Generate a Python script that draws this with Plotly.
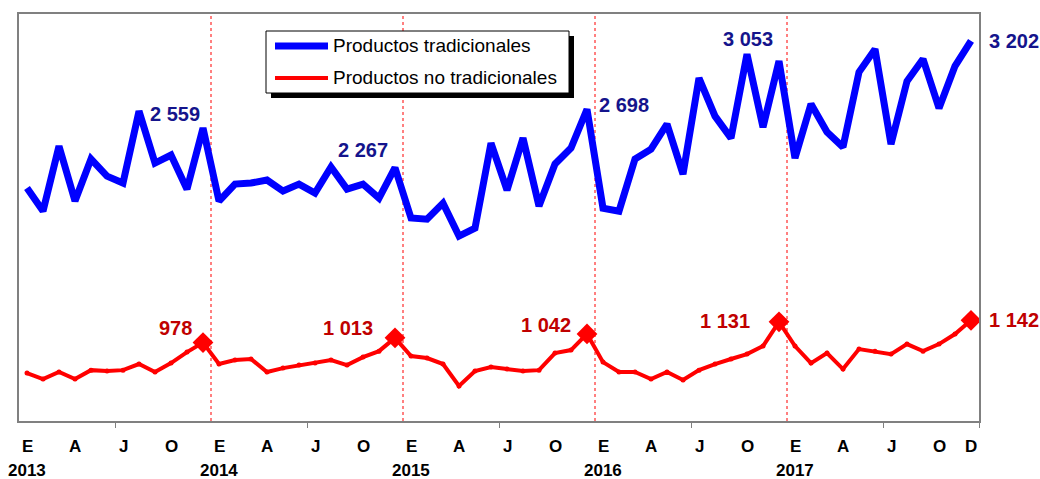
import plotly.graph_objects as go

# ---- data ----
months = ["E", "F", "M", "A", "M", "J", "J", "A", "S", "O", "N", "D"]
years = ["2013", "2014", "2015", "2016", "2017"]
series_names = ["Productos tradicionales", "Productos no tradicionales"]

tradicionales = [
    2117, 1947, 2426, 2021, 2331, 2205, 2154, 2684, 2301, 2360, 2109, 2559,
    2021, 2146, 2154, 2176, 2095, 2146, 2080, 2272, 2109, 2146, 2043, 2267,
    1896, 1888, 2006, 1763, 1822, 2448, 2102, 2485, 1984, 2294, 2412, 2698,
    1969, 1947, 2331, 2404, 2588, 2220, 2928, 2647, 2485, 3104, 2566, 3053,
    2338, 2736, 2530, 2419, 2972, 3141, 2441, 2905, 3068, 2706, 3016, 3202,
]
no_tradicionales = [
    753, 709, 761, 709, 775, 768, 775, 820, 761, 827, 908, 978,
    820, 849, 857, 761, 790, 812, 827, 849, 812, 871, 915, 1013,
    879, 864, 820, 658, 768, 798, 783, 768, 775, 901, 923, 1042,
    834, 761, 761, 709, 761, 702, 775, 820, 857, 893, 952, 1131,
    952, 827, 901, 783, 930, 915, 893, 967, 915, 967, 1041, 1142,
]

shown_month_pos = [0, 3, 6, 9]   # E, A, J, O

n = len(tradicionales)
x = list(range(n))
dec_idx = [i for i in x if i % 12 == 11]

BLUE = "#0000FF"
RED = "#FF0000"
BLUE_TXT = "#14148C"
RED_TXT = "#C00000"
FONT = "Liberation Sans, Arial, sans-serif"

# the page body margin is removed (see post_script), figure fills the window
W, H = 1040, 479
PL, PT, PW, PH = 19, 14, 960, 407   # plot area in px


def px_x(wx):   # window px -> paper x
    return (wx - PL) / PW


def px_y(wy):   # window px -> paper y
    return 1 - (wy - PT) / PH


fig = go.Figure()

fig.add_trace(go.Scatter(
    x=x, y=tradicionales, mode="lines", name=series_names[0],
    line=dict(color=BLUE, width=7), showlegend=False,
))
fig.add_trace(go.Scatter(
    x=x, y=no_tradicionales, mode="lines+markers", name=series_names[1],
    line=dict(color=RED, width=4), marker=dict(color=RED, size=5), showlegend=False,
))
fig.add_trace(go.Scatter(
    x=dec_idx, y=[no_tradicionales[i] for i in dec_idx], mode="markers",
    marker=dict(symbol="diamond", size=16, color=RED), showlegend=False,
    hoverinfo="skip",
))


def fmt(v):
    return f"{v:,}".replace(",", " ")


blue_pos = [("right", -1, 14), ("right", -5, 18), ("left", 10, 4), ("right", -4, 22), ("left", 16, 0)]
red_pos = [("right", -9, 15), ("right", -20, 10), ("right", -14, 9), ("right", -27, 1), ("left", 16, 0)]
for k, i in enumerate(dec_idx):
    xa, xs, ys = blue_pos[k]
    fig.add_annotation(x=i, y=tradicionales[i], text=f"<b>{fmt(tradicionales[i])}</b>",
                       showarrow=False, xanchor=xa, yanchor="middle", xshift=xs, yshift=ys,
                       font=dict(family=FONT, size=20, color=BLUE_TXT))
    xa, xs, ys = red_pos[k]
    fig.add_annotation(x=i, y=no_tradicionales[i], text=f"<b>{fmt(no_tradicionales[i])}</b>",
                       showarrow=False, xanchor=xa, yanchor="middle", xshift=xs, yshift=ys,
                       font=dict(family=FONT, size=20, color=RED_TXT))

# category labels below the axis
for i in x:
    pos = i % 12
    if pos in shown_month_pos or i == n - 1:
        fig.add_annotation(x=i, y=0, xref="x", yref="paper", yshift=-25,
                           text=f"<b>{months[pos]}</b>",
                           showarrow=False, xanchor="center", yanchor="middle",
                           font=dict(family=FONT, size=17, color="black"))
    if pos == 0:
        fig.add_annotation(x=i, y=0, xref="x", yref="paper", yshift=-49,
                           text=f"<b>{years[i // 12]}</b>",
                           showarrow=False, xanchor="center", yanchor="middle",
                           font=dict(family=FONT, size=17, color="black"))

# red dotted year separators
for i in dec_idx[:-1]:
    fig.add_shape(type="line", x0=i + 0.5, x1=i + 0.5, y0=0, y1=1, xref="x", yref="paper",
                  line=dict(color=RED, width=1, dash="dot"), layer="below")

# ---- legend box (drawn) ----
LX0, LX1, LY0, LY1 = 266, 569, 31, 93
fig.add_shape(type="rect", xref="paper", yref="paper",
              x0=px_x(LX0 + 5), x1=px_x(LX1 + 5), y0=px_y(LY1 + 5), y1=px_y(LY0 + 5),
              fillcolor="black", line=dict(width=0), layer="above")
fig.add_shape(type="rect", xref="paper", yref="paper",
              x0=px_x(LX0), x1=px_x(LX1), y0=px_y(LY1), y1=px_y(LY0),
              fillcolor="white", line=dict(color="black", width=1), layer="above")
leg_rows = [(46, BLUE, 7), (78, RED, 4)]
for (ly, col, lw), name in zip(leg_rows, series_names):
    fig.add_shape(type="line", xref="paper", yref="paper",
                  x0=px_x(275), x1=px_x(328), y0=px_y(ly), y1=px_y(ly),
                  line=dict(color=col, width=lw), layer="above")
    fig.add_annotation(x=px_x(331), y=px_y(ly), xref="paper", yref="paper",
                       text=name, showarrow=False, xanchor="left", yanchor="middle",
                       font=dict(family=FONT, size=19, color="black"))

tick_vals = [i + 0.5 for i in range(5, n, 12)] + [n - 0.5]

fig.update_layout(
    width=W, height=H,
    margin=dict(l=PL, r=W - PL - PW, t=PT, b=H - PT - PH),
    paper_bgcolor="white", plot_bgcolor="white",
    font=dict(family=FONT, color="black"),
    showlegend=False,
    xaxis=dict(range=[-0.5, n - 0.5], showgrid=False, zeroline=False,
               showline=True, linecolor="#808080", linewidth=2, mirror=True,
               tickmode="array", tickvals=tick_vals, ticktext=[""] * len(tick_vals),
               ticks="outside", ticklen=5, tickcolor="#808080", tickwidth=1),
    yaxis=dict(range=[400, 3400], showgrid=False, zeroline=False, showticklabels=False,
               showline=True, linecolor="#808080", linewidth=2, mirror=True, ticks=""),
)

fig.write_html(
    "out.html",
    config={"displayModeBar": False},
    post_script="document.body.style.margin='0';document.body.style.overflow='hidden';",
)
